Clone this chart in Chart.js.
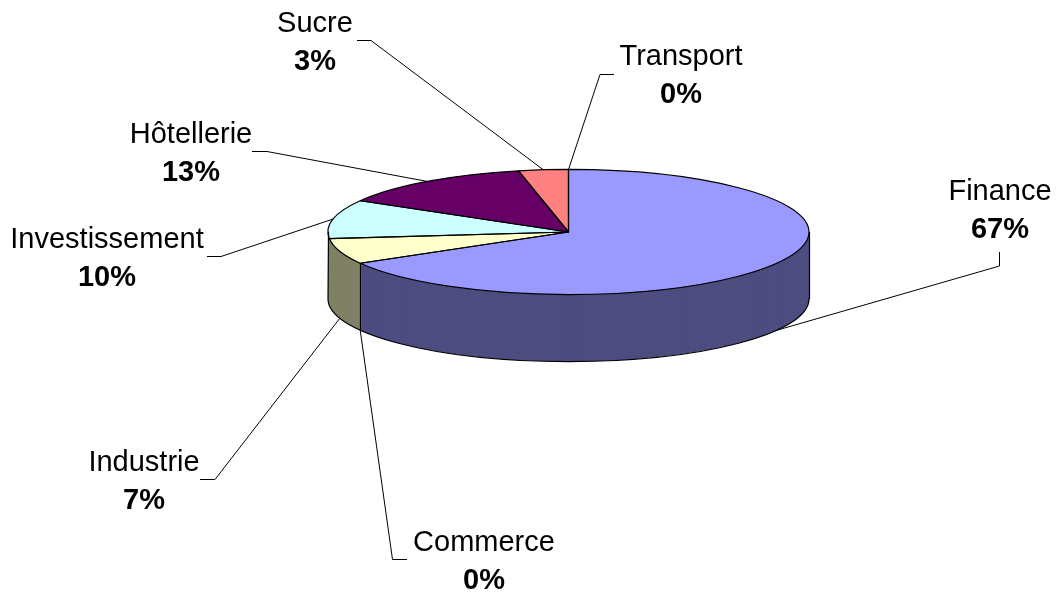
<!DOCTYPE html>
<html>
<head>
<meta charset="utf-8">
<style>html,body{margin:0;padding:0;background:#fff}canvas{display:block}</style>
<script src="https://cdn.jsdelivr.net/npm/chart.js@4"></script>
</head>
<body>
<canvas id="c" width="1056" height="592"></canvas>
<script>
const categories = ['Finance','Commerce','Industrie','Investissement','Hôtellerie','Sucre','Transport'];
const counts = [20,0,2,3,4,1,0];
const topColors = ['#9999FF','#993366','#FFFFCC','#CCFFFF','#660066','#FF8080','#0066CC'];
const sideColors = ['#4D4D80','#4D1A33','#808066','#808066','#330033','#804040','#003366'];

// page layout of the annotation labels: text centre, first baseline, elbow and end of the leader's horizontal run
const labelLayout = [
  {cx:1000, y:200, stem:[[999.5,266],[999.5,252]]},
  {cx:484,  y:551, stem:[[392.5,559.5],[407,559.5]]},
  {cx:144,  y:471, stem:[[215,479.5],[200,479.5]]},
  {cx:107,  y:248, stem:[[221,256.5],[207,256.5]]},
  {cx:191,  y:143, stem:[[267,151.5],[252,151.5]]},
  {cx:315,  y:32,  stem:[[371,40.5],[357,40.5]]},
  {cx:681,  y:65,  stem:[[600,74.5],[614,74.5]]}
];
const CY = 232, SQUASH = 0.26, DEPTH = 67, FONT = '29px "Liberation Sans", Arial, sans-serif', BOLD = 'bold 29px "Liberation Sans", Arial, sans-serif';

function squash(ctx, el, offset){
  ctx.translate(0, CY + offset);
  ctx.scale(1, SQUASH);
  ctx.translate(0, -el.y);
}

const tilt = {
  id:'tilt',
  beforeDatasetsDraw(chart){
    const ctx = chart.ctx, arcs = chart.getDatasetMeta(0).data;
    // stacked copies of each library arc make the wall
    for (let d = DEPTH; d >= 1; d--) {
      arcs.forEach((el,i)=>{
        const saved = el.options;
        const o = Object.create(saved);
        o.backgroundColor = sideColors[i];
        el.options = o;
        ctx.save();
        squash(ctx, el, d);
        el.draw(ctx);
        ctx.restore();
        el.options = saved;
      });
    }
    ctx.save();
    squash(ctx, arcs[0], 0);
  },
  afterDatasetsDraw(chart){
    const ctx = chart.ctx, arcs = chart.getDatasetMeta(0).data;
    ctx.restore();
    const el0 = arcs[0], cx = el0.x, rx = el0.outerRadius, ry = rx*SQUASH;
    const xL = Math.floor(cx-rx)+.5, xR = Math.floor(cx+rx)+.5;
    ctx.save();
    ctx.strokeStyle = '#000'; ctx.lineWidth = 1.2; ctx.lineJoin = 'round';
    // wall outline
    ctx.beginPath();
    ctx.moveTo(xR, CY);
    ctx.lineTo(xR, CY+DEPTH);
    ctx.ellipse(cx, CY+DEPTH, rx, ry, 0, 0, Math.PI);
    ctx.lineTo(xL, CY);
    ctx.stroke();
    // vertical edges between front slices
    arcs.forEach(el=>{
      const a = el.endAngle, s = Math.sin(a);
      if (s > 0.2 && el.circumference > 0) {
        const x = Math.round(cx + rx*Math.cos(a)) + .5, y = CY + ry*s;
        ctx.beginPath(); ctx.moveTo(x,y); ctx.lineTo(x,y+DEPTH); ctx.stroke();
      }
    });
    // top face outlines
    arcs.forEach(el=>{
      if (el.circumference <= 0) return;
      ctx.beginPath();
      ctx.moveTo(cx, CY);
      ctx.ellipse(cx, CY, rx, ry, 0, el.startAngle, el.endAngle);
      ctx.closePath();
      ctx.stroke();
    });
    // leaders
    ctx.lineWidth = 1;
    arcs.forEach((el,i)=>{
      const mid = (el.startAngle+el.endAngle)/2;
      const s = Math.sin(mid);
      const ax = cx + rx*Math.cos(mid), ay = CY + ry*s + (s > 0.01 ? DEPTH : 0);
      const st = labelLayout[i].stem;
      ctx.beginPath();
      ctx.moveTo(ax, ay);
      st.forEach(p=>ctx.lineTo(p[0],p[1]));
      ctx.stroke();
    });
    // labels
    const total = counts.reduce((a,b)=>a+b,0);
    ctx.fillStyle = '#000'; ctx.textAlign = 'center'; ctx.textBaseline = 'alphabetic';
    categories.forEach((name,i)=>{
      const L = labelLayout[i];
      ctx.font = FONT;
      ctx.fillText(name, L.cx, L.y);
      ctx.font = BOLD;
      ctx.fillText(Math.round(counts[i]/total*100)+'%', L.cx, L.y+38);
    });
    ctx.restore();
  }
};

new Chart(document.getElementById('c'), {
  type:'pie',
  data:{labels:categories, datasets:[{data:counts, backgroundColor:topColors, borderWidth:0, clip:false}]},
  options:{
    responsive:false, animation:false,
    layout:{padding:{left:328,right:247,top:0,bottom:111}},
    plugins:{legend:{display:false},tooltip:{enabled:false},title:{display:false}}
  },
  plugins:[tilt]
});
</script>
</body>
</html>
